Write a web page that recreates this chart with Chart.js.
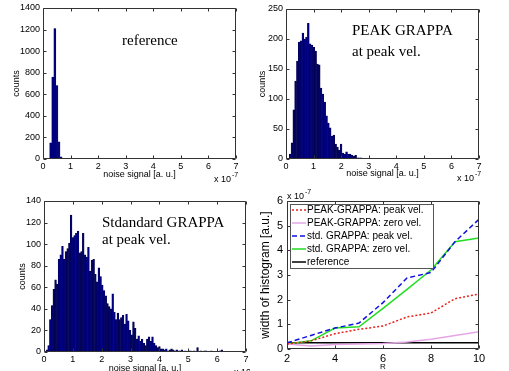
<!DOCTYPE html>
<html>
<head>
<meta charset="utf-8">
<script src="https://cdn.jsdelivr.net/npm/chart.js@4.4.1/dist/chart.umd.min.js"></script>
<style>
html, body { margin: 0; padding: 0; background: #fff; width: 509px; height: 371px; overflow: hidden; }
canvas { position: absolute; }
</style>
</head>
<body>
<canvas id="refHist" width="250" height="185" style="left:0;top:0"></canvas>
<canvas id="peakHist" width="259" height="185" style="left:250px;top:0"></canvas>
<canvas id="stdHist" width="250" height="190" style="left:0;top:185px"></canvas>
<canvas id="widthChart" width="259" height="190" style="left:250px;top:185px"></canvas>
<script>
// histogram counts, bins of equal width starting at binStart (units of 1e-7)
const refBinStart = 0.28, refBinWidth = 0.075;
const refCounts = [150, 760, 1210, 680, 160, 20];

const peakBinStart = 0.15, peakBinWidth = 0.066;
const peakCounts = [8, 27, 82, 130, 163, 195, 197, 210, 200, 203, 226, 192, 190, 186, 180, 158,
    157, 118, 108, 95, 72, 60, 52, 38, 40, 25, 20, 15, 25, 10, 8, 12, 8, 8, 6, 5, 6, 2, 2, 2, 1];

const stdBinStart = 0.1, stdBinWidth = 0.06;
const stdCounts = [2, 6, 30, 43, 58, 67, 63, 86, 90, 98, 86, 93, 96, 101, 127, 106, 108, 110, 112, 92,
    93, 110, 90, 88, 97, 75, 85, 86, 72, 65, 78, 70, 62, 57, 52, 45, 42, 40, 54, 37,
    30, 36, 30, 32, 34, 26, 35, 29, 20, 16, 28, 22, 12, 15, 10, 12, 8, 6, 12, 14,
    10, 14, 8, 6, 4, 5, 3, 3, 2, 3, 1, 2, 3, 2, 1, 2, 1, 1, 2, 0,
    1, 0, 1, 1, 0, 1, 0, 4, 0, 1, 0, 1, 1, 0, 0, 1, 0, 0, 0, 0, 1, 2];

// width of histogram vs. reduction factor R (units of 1e-7)
const rValues = [2, 3, 4, 5, 6, 7, 8, 9, 10];
const peakGrappaPeak = [0.2, 0.33, 0.62, 0.8, 0.93, 1.3, 1.46, 2.04, 2.23];
const peakGrappaZero = [0.2, 0.12, 0.18, 0.2, 0.22, 0.28, 0.4, 0.55, 0.7];
const stdGrappaPeak = [0.25, 0.55, 0.85, 1.05, 1.88, 2.88, 3.1, 4.35, 5.26];
const stdGrappaZero = [0.2, 0.33, 0.85, 0.9, 1.65, 2.42, 3.2, 4.35, 4.5];
const referenceWidth = [0.25, 0.25, 0.25, 0.25, 0.25, 0.25, 0.25, 0.25, 0.25];

const SANS = '"Liberation Sans", Arial, sans-serif';
const SERIF = '"Liberation Serif", "Times New Roman", serif';

// matlab style box, inward ticks, text notes and custom legend
const framePlugin = {
    id: 'frame',
    afterDatasetsDraw(chart, args, o) {
        const ctx = chart.ctx;
        const a = chart.chartArea;
        const L = Math.round(a.left) + 0.5, T = Math.round(a.top) + 0.5;
        const R = Math.round(a.right) - 0.5, B = Math.round(a.bottom) - 0.5;
        const tl = o.tickLen || 3;
        ctx.save();
        ctx.strokeStyle = '#333';
        ctx.lineWidth = 1;
        ctx.setLineDash([]);
        ctx.beginPath();
        ctx.rect(L, T, R - L, B - T);
        chart.scales.x.ticks.forEach(t => {
            const px = Math.round(chart.scales.x.getPixelForValue(t.value)) + 0.5;
            ctx.moveTo(px, B); ctx.lineTo(px, B - tl);
            ctx.moveTo(px, T); ctx.lineTo(px, T + tl);
        });
        chart.scales.y.ticks.forEach(t => {
            const py = Math.round(chart.scales.y.getPixelForValue(t.value)) + 0.5;
            ctx.moveTo(L, py); ctx.lineTo(L + tl, py);
            ctx.moveTo(R, py); ctx.lineTo(R - tl, py);
        });
        ctx.stroke();

        ctx.fillStyle = '#000';
        ctx.textBaseline = 'middle';
        ctx.textAlign = 'left';
        (o.notes || []).forEach(n => {
            ctx.font = n.font;
            ctx.fillText(n.text, n.x, n.y);
        });

        if (o.exp) {
            ctx.font = '9px ' + SANS;
            ctx.fillText('x 10', o.exp.x, o.exp.y);
            const w = ctx.measureText('x 10').width;
            ctx.font = '7px ' + SANS;
            ctx.fillText('-7', o.exp.x + w + 1, o.exp.y - 5);
        }

        if (o.legend) {
            const lg = o.legend;
            ctx.fillStyle = '#fff';
            ctx.fillRect(lg.x, lg.y, lg.w, lg.h);
            ctx.strokeStyle = '#555';
            ctx.strokeRect(lg.x + 0.5, lg.y + 0.5, lg.w, lg.h);
            ctx.font = '10px ' + SANS;
            chart.data.datasets.forEach((ds, i) => {
                const y = lg.y + 6 + i * 13;
                ctx.strokeStyle = ds.borderColor;
                ctx.lineWidth = ds.borderWidth;
                ctx.setLineDash(ds.borderDash || []);
                ctx.beginPath();
                ctx.moveTo(lg.x + 2, y);
                ctx.lineTo(lg.x + 16, y);
                ctx.stroke();
                ctx.fillStyle = '#000';
                ctx.fillText(ds.label, lg.x + 17, y);
            });
        }
        ctx.restore();
    }
};

function fixedAxis(size, isX) {
    return function(scale) {
        if (isX) scale.height = size; else scale.width = size;
        scale.paddingLeft = scale.paddingRight = scale.paddingTop = scale.paddingBottom = 0;
    };
}

// plain numbers, no thousands separator
const plainTick = v => String(v);

function histChart(id, counts, binStart, binWidth, yMax, yStep, box, notes, exp) {
    const points = counts.map((c, i) => ({ x: binStart + i * binWidth, y: c }));
    return new Chart(document.getElementById(id), {
        type: 'bar',
        data: {
            datasets: [{
                data: points,
                backgroundColor: '#00007f',
                borderColor: '#000040',
                borderWidth: 0.5,
                barPercentage: 1,
                categoryPercentage: 1
            }]
        },
        options: {
            responsive: false,
            animation: false,
            events: [],
            layout: { autoPadding: false, padding: { left: 0, top: box.top, right: box.right, bottom: 0 } },
            plugins: {
                legend: { display: false },
                tooltip: { enabled: false },
                frame: { notes: notes, exp: exp }
            },
            scales: {
                x: {
                    type: 'linear', min: 0, max: 7, offset: false,
                    grid: { display: false, drawTicks: false },
                    border: { display: false },
                    ticks: { stepSize: 1, color: '#000', padding: 2, maxRotation: 0,
                        callback: plainTick, font: { family: SANS, size: 9 } },
                    title: { display: true, text: 'noise signal [a. u.]', color: '#000',
                        font: { family: SANS, size: 9 }, padding: { top: 0, bottom: box.xTitle } },
                    afterFit: fixedAxis(box.xH, true)
                },
                y: {
                    min: 0, max: yMax,
                    grid: { display: false, drawTicks: false },
                    border: { display: false },
                    ticks: { stepSize: yStep, color: '#000', padding: 3,
                        callback: plainTick, font: { family: SANS, size: 9 } },
                    title: { display: true, text: 'counts', color: '#000',
                        font: { family: SANS, size: 9 }, padding: { top: box.yTitle, bottom: 0 } },
                    afterFit: fixedAxis(box.yW, false)
                }
            }
        },
        plugins: [framePlugin]
    });
}

const titleFont = '15px ' + SERIF;

histChart('refHist', refCounts, refBinStart, refBinWidth, 1400, 200,
    { top: 8, right: 14, xH: 26, yW: 43, xTitle: 5, yTitle: 11.5 },
    [{ text: 'reference', x: 122, y: 41, font: titleFont }],
    { x: 214, y: 180 });

histChart('peakHist', peakCounts, peakBinStart, peakBinWidth, 250, 50,
    { top: 9, right: 30, xH: 26, yW: 36, xTitle: 6.5, yTitle: 7.5 },
    [{ text: 'PEAK GRAPPA', x: 102, y: 31, font: titleFont },
     { text: 'at peak vel.', x: 102, y: 52, font: titleFont }],
    { x: 207, y: 179 });

histChart('stdHist', stdCounts, stdBinStart, stdBinWidth, 140, 20,
    { top: 16, right: 4, xH: 23, yW: 44, xTitle: 1.5, yTitle: 17.5 },
    [{ text: 'Stdandard GRAPPA', x: 102, y: 38, font: titleFont },
     { text: 'at peak vel.', x: 102, y: 55, font: titleFont }],
    { x: 234, y: 188 });

new Chart(document.getElementById('widthChart'), {
    type: 'line',
    data: {
        labels: rValues,
        datasets: [
            { label: 'PEAK-GRAPPA: peak vel.', data: peakGrappaPeak, borderColor: '#e8201c', borderWidth: 1.5, borderDash: [2, 2] },
            { label: 'PEAK-GRAPPA: zero vel.', data: peakGrappaZero, borderColor: '#e6a6e6', borderWidth: 1.5 },
            { label: 'std. GRAPPA: peak vel.', data: stdGrappaPeak, borderColor: '#1010e0', borderWidth: 1.5, borderDash: [5, 3] },
            { label: 'std. GRAPPA: zero vel.', data: stdGrappaZero, borderColor: '#22dd22', borderWidth: 1.5 },
            { label: 'reference', data: referenceWidth, borderColor: '#000', borderWidth: 1.5 }
        ].map(ds => Object.assign({ pointRadius: 0, tension: 0, fill: false }, ds))
    },
    options: {
        responsive: false,
        animation: false,
        events: [],
        layout: { autoPadding: false, padding: { left: 0, top: 16, right: 30, bottom: 0 } },
        plugins: {
            legend: { display: false },
            tooltip: { enabled: false },
            frame: {
                exp: { x: 37, y: 12 },
                legend: { x: 40, y: 19, w: 143, h: 64 }
            }
        },
        scales: {
            x: {
                type: 'linear', min: 2, max: 10, offset: false,
                grid: { display: false, drawTicks: false },
                border: { display: false },
                ticks: { stepSize: 2, color: '#000', padding: 3, maxRotation: 0, font: { family: SANS, size: 11 } },
                title: { display: true, text: 'R', color: '#000',
                    font: { family: SANS, size: 8 }, padding: { top: 0, bottom: 3 } },
                afterFit: fixedAxis(26, true)
            },
            y: {
                min: 0, max: 6,
                grid: { display: false, drawTicks: false },
                border: { display: false },
                ticks: { stepSize: 1, color: '#000', padding: 4, font: { family: SANS, size: 11 } },
                title: { display: true, text: 'width of histogram [a.u.]', color: '#000',
                    font: { family: SANS, size: 12 }, padding: { top: 8, bottom: 0 } },
                afterFit: fixedAxis(37, false)
            }
        }
    },
    plugins: [framePlugin]
});
</script>
</body>
</html>
